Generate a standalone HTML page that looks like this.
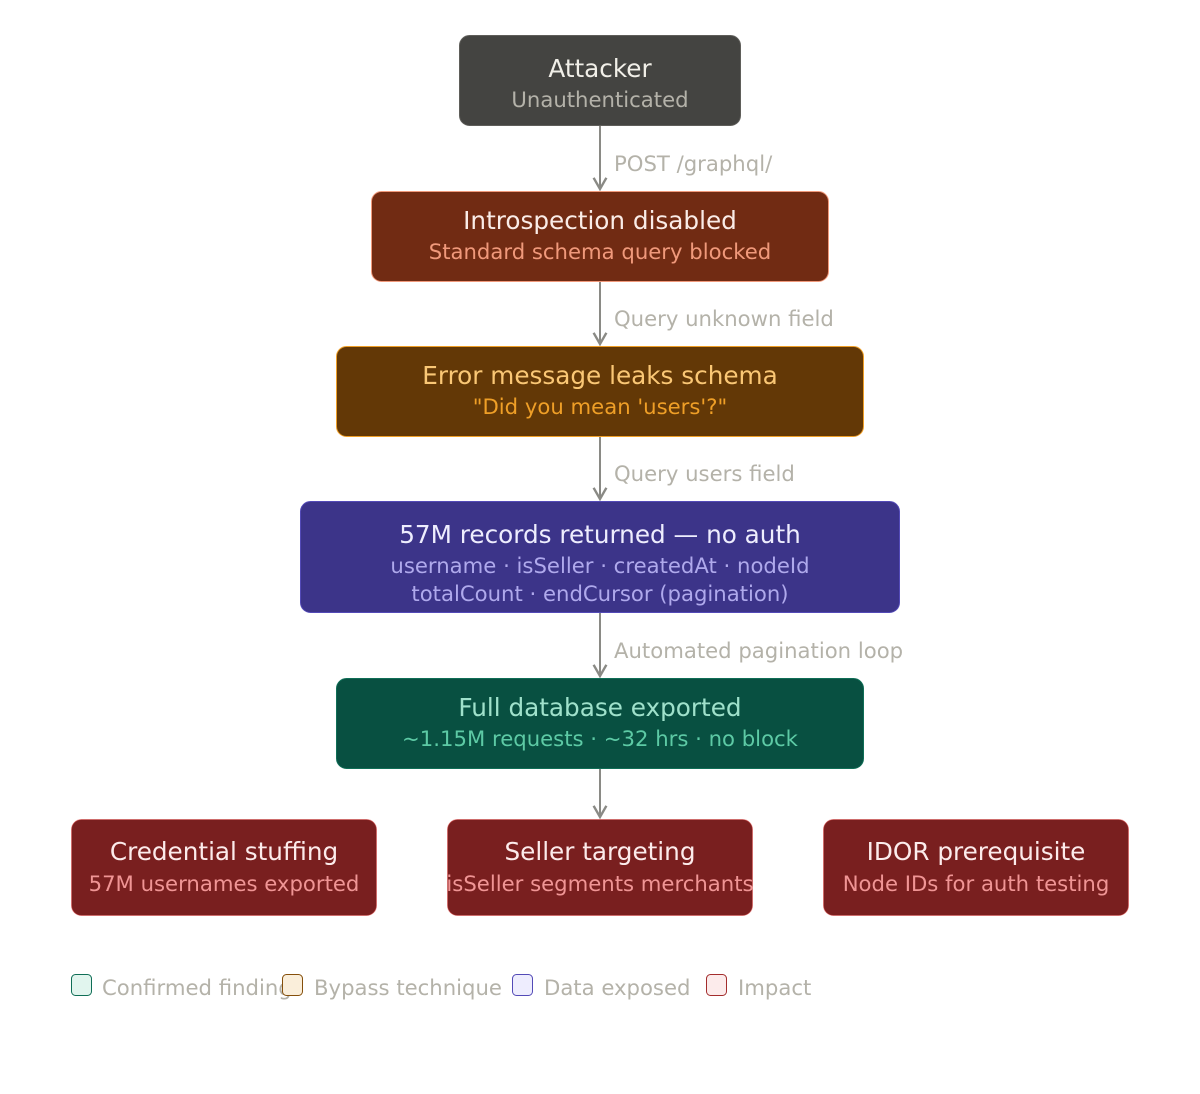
<!DOCTYPE html>
<html><head><meta charset="utf-8"><style>
html,body{margin:0;padding:0;background:#fff;}
svg{display:block;font-family:"DejaVu Sans","Liberation Sans",sans-serif;}
</style></head><body>
<svg width="1200" height="1094" viewBox="0 0 1200 1094" xmlns="http://www.w3.org/2000/svg">
<defs><marker id="a" viewBox="0 0 10 10" refX="8" refY="5" markerWidth="8" markerHeight="8" orient="auto"><path d="M1 1L8 5L1 9" fill="none" stroke="#8a8a85" stroke-width="1.5"/></marker></defs>
<g stroke="#8a8a85" stroke-width="2" marker-end="url(#a)">
<line x1="600" y1="126" x2="600" y2="189"/>
<line x1="600" y1="282" x2="600" y2="344"/>
<line x1="600" y1="437" x2="600" y2="499"/>
<line x1="600" y1="613" x2="600" y2="676"/>
<line x1="600" y1="769" x2="600" y2="817"/>
</g>
<g font-size="21.2" fill="#B4B2A9">
<text x="614" y="171">POST /graphql/</text>
<text x="614" y="326">Query unknown field</text>
<text x="614" y="481">Query users field</text>
<text x="614" y="658">Automated pagination loop</text>
</g>
<rect x="459.5" y="35.5" width="281" height="90" rx="10" fill="#444441" stroke="#5F5E5A"/>
<text x="600" y="77" text-anchor="middle" font-size="24.7" fill="#F1EFE8">Attacker</text>
<text x="600" y="107" text-anchor="middle" font-size="21.2" fill="#B4B2A9">Unauthenticated</text>
<rect x="371.5" y="191.5" width="457" height="90" rx="10" fill="#712B13" stroke="#F0997B"/>
<text x="600" y="229" text-anchor="middle" font-size="24.7" fill="#FAECE7">Introspection disabled</text>
<text x="600" y="259" text-anchor="middle" font-size="21.2" fill="#F0997B">Standard schema query blocked</text>
<rect x="336.5" y="346.5" width="527" height="90" rx="10" fill="#633806" stroke="#EF9F27"/>
<text x="600" y="384" text-anchor="middle" font-size="24.7" fill="#FAC775">Error message leaks schema</text>
<text x="600" y="414" text-anchor="middle" font-size="21.2" fill="#EF9F27">"Did you mean 'users'?"</text>
<rect x="300.5" y="501.5" width="599" height="111" rx="10" fill="#3C3489" stroke="#534AB7"/>
<text x="600" y="543" text-anchor="middle" font-size="24.7" fill="#EEEDFE">57M records returned — no auth</text>
<text x="600" y="573" text-anchor="middle" font-size="21.2" fill="#AFA9EC">username · isSeller · createdAt · nodeId</text>
<text x="600" y="601" text-anchor="middle" font-size="21.2" fill="#AFA9EC">totalCount · endCursor (pagination)</text>
<rect x="336.5" y="678.5" width="527" height="90" rx="10" fill="#085041" stroke="#0F6E56"/>
<text x="600" y="716" text-anchor="middle" font-size="24.7" fill="#9FE1CB">Full database exported</text>
<text x="600" y="746" text-anchor="middle" font-size="21.2" fill="#5DCAA5">~1.15M requests · ~32 hrs · no block</text>
<g fill="#791F1F" stroke="#E24B4A" stroke-opacity="0.5">
<rect x="71.5" y="819.5" width="305" height="96" rx="10"/>
<rect x="447.5" y="819.5" width="305" height="96" rx="10"/>
<rect x="823.5" y="819.5" width="305" height="96" rx="10"/>
</g>
<g text-anchor="middle">
<text x="224" y="860" font-size="24.7" fill="#FCEBEB">Credential stuffing</text>
<text x="224" y="891" font-size="21.2" fill="#F09595">57M usernames exported</text>
<text x="600" y="860" font-size="24.7" fill="#FCEBEB">Seller targeting</text>
<text x="600" y="891" font-size="21.2" fill="#F09595">isSeller segments merchants</text>
<text x="976" y="860" font-size="24.7" fill="#FCEBEB">IDOR prerequisite</text>
<text x="976" y="891" font-size="21.2" fill="#F09595">Node IDs for auth testing</text>
</g>
<text x="102" y="995" font-size="21.2" fill="#B4B2A9">Confirmed finding</text>
<rect x="71.5" y="974.5" width="20" height="21" rx="4" fill="#E1F5EE" stroke="#0F6E56"/>
<rect x="282.5" y="974.5" width="20" height="21" rx="4" fill="#FAEEDA" stroke="#854F0B"/>
<rect x="512.5" y="974.5" width="20" height="21" rx="4" fill="#EEEDFE" stroke="#534AB7"/>
<rect x="706.5" y="974.5" width="20" height="21" rx="4" fill="#FCEBEB" stroke="#A32D2D"/>
<g font-size="21.2" fill="#B4B2A9">
<text x="314" y="995">Bypass technique</text>
<text x="544" y="995">Data exposed</text>
<text x="738" y="995">Impact</text>
</g>
</svg>
</body></html>
